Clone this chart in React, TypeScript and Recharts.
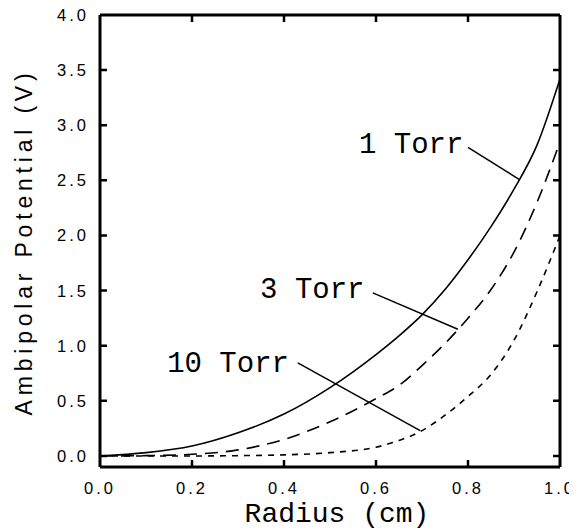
import React from 'react';
import { LineChart, Line, XAxis, YAxis, ReferenceLine, ReferenceDot } from 'recharts';

// ---- data ----
const radius = [0, 0.1, 0.2, 0.3, 0.4, 0.5, 0.6, 0.65, 0.7, 0.75, 0.8, 0.85, 0.9, 0.95, 1.0];
const torr1 = [0, 0.03, 0.09, 0.21, 0.38, 0.62, 0.92, 1.09, 1.28, 1.51, 1.78, 2.08, 2.42, 2.82, 3.42];
const torr3 = [0, 0.003, 0.015, 0.055, 0.15, 0.31, 0.52, 0.64, 0.82, 1.02, 1.25, 1.51, 1.85, 2.3, 2.85];
const torr10 = [0, 0, 0, 0.003, 0.01, 0.03, 0.08, 0.14, 0.23, 0.37, 0.54, 0.74, 1.05, 1.49, 2.0];

const xTicks = [0, 0.2, 0.4, 0.6, 0.8, 1.0];
const yTicks = [0, 0.5, 1, 1.5, 2, 2.5, 3, 3.5, 4];
const xInnerTicks = [0.2, 0.4, 0.6, 0.8];
const yInnerTicks = [0, 0.5, 1, 1.5, 2, 2.5, 3, 3.5];
const xDomain = [0, 1];
const yDomain = [-0.1, 4];

const seriesNames = ['1 Torr', '3 Torr', '10 Torr'];
// annotation anchors (data coordinates)
const labelX = [0.563, 0.348, 0.146];
const labelY = [2.75, 1.43, 0.76];
const leaderX1 = [0.8, 0.593, 0.43];
const leaderY1 = [2.8, 1.48, 0.844];
const leaderX2 = [0.911, 0.778, 0.696];
const leaderY2 = [2.51, 1.15, 0.23];

const data = radius.map((r, i) => ({ r, t1: torr1[i], t3: torr3[i], t10: torr10[i] }));

const TICK_FONT = '"Liberation Sans", Arial, sans-serif';
const MONO_FONT = '"Liberation Mono", "Courier New", monospace';
const TICK_LEN = 7;
const FRAME = '#000';

const LeftTick = (p: any) => (
  <text x={p.x} y={p.y} dy="0.36em" textAnchor="end" fontFamily={TICK_FONT} fontSize={16.5} letterSpacing={3} fill="#000">
    {Number(p.payload.value).toFixed(1)}
  </text>
);

const BottomTick = (p: any) => (
  <text x={p.x} y={p.y} dy="0.71em" textAnchor="middle" fontFamily={TICK_FONT} fontSize={16.5} letterSpacing={3} fill="#000">
    {Number(p.payload.value).toFixed(1)}
  </text>
);

// inward tick marks at both ends of a horizontal reference line
const HTickShape = (p: any) => {
  const l = Math.min(p.x1, p.x2);
  const r = Math.max(p.x1, p.x2);
  const y = p.y1;
  return (
    <path d={`M${l},${y}H${l + TICK_LEN}M${r},${y}H${r - TICK_LEN}`} stroke={FRAME} strokeWidth={2.5} fill="none" />
  );
};

// inward tick marks at both ends of a vertical reference line
const VTickShape = (p: any) => {
  const t = Math.min(p.y1, p.y2);
  const b = Math.max(p.y1, p.y2);
  const x = p.x1;
  return (
    <path d={`M${x},${b}V${b - TICK_LEN}M${x},${t}V${t + TICK_LEN}`} stroke={FRAME} strokeWidth={2.5} fill="none" />
  );
};

const XTitle = (p: any) => {
  const vb = p.viewBox;
  return (
    <text x={vb.x + vb.width / 2 + 7} y={vb.y + vb.height - 9} textAnchor="middle" fontFamily={MONO_FONT} fontSize={28} fill="#000">
      Radius (cm)
    </text>
  );
};

const YTitle = (p: any) => {
  const vb = p.viewBox;
  const cx = 24;
  const cy = vb.y + vb.height / 2 + 1;
  return (
    <text x={cx} y={cy} transform={`rotate(-90 ${cx} ${cy})`} textAnchor="middle" fontFamily={TICK_FONT} fontSize={23} letterSpacing={4.8} fill="#000">
      Ambipolar Potential (V)
    </text>
  );
};

const makeLabel = (text: string) => (p: any) => {
  const vb = p.viewBox;
  return (
    <text x={vb.x} y={vb.y} fontFamily={MONO_FONT} fontSize={29} fill="#000">
      {text}
    </text>
  );
};

export default function App() {
  return (
    <LineChart width={569} height={523} data={data} margin={{ top: 7, right: 17, bottom: 0, left: 0 }}>
      <XAxis dataKey="r" type="number" domain={xDomain} ticks={xTicks} interval={0} height={64}
        tickSize={0} tickMargin={15} tickLine={false} axisLine={{ stroke: FRAME, strokeWidth: 3 }} tick={BottomTick} label={XTitle} allowDataOverflow />
      <YAxis type="number" domain={yDomain} ticks={yTicks} interval={0} width={92}
        tickSize={0} tickMargin={11} tickLine={false} axisLine={{ stroke: FRAME, strokeWidth: 3 }} tick={LeftTick} label={YTitle} allowDataOverflow />

      {/* frame: top and right sides */}
      <ReferenceLine x={xDomain[1]} stroke={FRAME} strokeWidth={3} />
      <ReferenceLine y={yDomain[1]} stroke={FRAME} strokeWidth={3} />
      {/* inward ticks */}
      {yInnerTicks.map((v) => (
        <ReferenceLine key={'yt' + v} y={v} shape={HTickShape} />
      ))}
      {xInnerTicks.map((v) => (
        <ReferenceLine key={'xt' + v} x={v} shape={VTickShape} />
      ))}

      <Line dataKey="t1" type="monotone" stroke="#000" strokeWidth={1.6} dot={false} isAnimationActive={false} />
      <Line dataKey="t3" type="monotone" stroke="#000" strokeWidth={1.6} strokeDasharray="13 8" dot={false} isAnimationActive={false} />
      <Line dataKey="t10" type="monotone" stroke="#000" strokeWidth={1.6} strokeDasharray="6 6" dot={false} isAnimationActive={false} />

      {seriesNames.map((name, i) => (
        <ReferenceLine key={'l' + i} segment={[{ x: leaderX1[i], y: leaderY1[i] }, { x: leaderX2[i], y: leaderY2[i] }]}
          stroke="#000" strokeWidth={1.5} />
      ))}
      {seriesNames.map((name, i) => (
        <ReferenceDot key={'d' + i} x={labelX[i]} y={labelY[i]} r={0} fill="none" stroke="none" label={makeLabel(name)} />
      ))}
    </LineChart>
  );
}
